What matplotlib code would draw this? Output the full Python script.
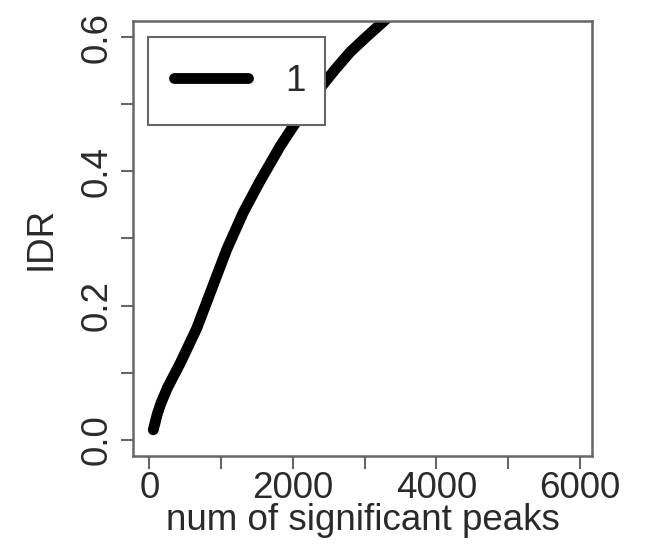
import matplotlib
matplotlib.use("Agg")
import matplotlib.pyplot as plt

# IDR curve against the number of significant peaks
peaks = [56, 110, 160, 250, 430, 660, 870, 1080, 1310, 1540, 1820, 2010, 2380,
         2590, 2800, 3030, 3260, 3330]
idr = [0.015, 0.038, 0.054, 0.077, 0.114, 0.166, 0.225, 0.284, 0.339, 0.385,
       0.437, 0.468, 0.524, 0.552, 0.578, 0.601, 0.623, 0.630]

x_ticks = [0, 2000, 4000, 6000]
x_minor = [1000, 3000, 5000]
y_ticks = [0.0, 0.2, 0.4, 0.6]
y_minor = [0.1, 0.3, 0.5]
series_name = "1"

plt.rcParams["font.family"] = ["Liberation Sans", "DejaVu Sans"]
fs = 26.5
ink = "#2a2a2a"
frame = "#666666"

fig = plt.figure(figsize=(6.49, 5.48), dpi=100)
ax = fig.add_axes([0.2049, 0.1679, 0.7073, 0.7938])

ax.plot(peaks, idr, color="black", linewidth=7.8, solid_capstyle="round",
        solid_joinstyle="round", label=series_name)

ax.set_xlim(-227, 6166)
ax.set_ylim(-0.024, 0.624)

ax.set_xticks(x_ticks)
ax.set_xticks(x_minor, minor=True)
ax.set_yticks(y_ticks)
ax.set_yticks(y_minor, minor=True)
ax.set_xticklabels([str(v) for v in x_ticks], fontsize=fs, color=ink)
ax.set_yticklabels(["%.1f" % v for v in y_ticks], fontsize=fs, color=ink,
                   rotation=90, va="center")

for which in ("major", "minor"):
    ax.tick_params(axis="both", which=which, direction="out", length=9,
                   width=1.5, color=frame, pad=4)
ax.tick_params(axis="x", which="major", pad=2)

for s in ax.spines.values():
    s.set_color(frame)
    s.set_linewidth(1.8)

ax.set_xlabel("num of significant peaks", fontsize=fs, color=ink, labelpad=-2)
ax.set_ylabel("IDR", fontsize=fs, color=ink, labelpad=15)

leg = ax.legend(loc="upper left", bbox_to_anchor=(0.0327, 0.766, 0.385, 0.197),
                mode="expand", fontsize=fs, frameon=True, fancybox=False,
                borderpad=0.72, handlelength=2.0, handletextpad=1.0,
                borderaxespad=0.0)
leg.get_frame().set_edgecolor(frame)
leg.get_frame().set_linewidth(1.5)
leg.get_frame().set_alpha(1.0)
for t in leg.get_texts():
    t.set_color(ink)

fig.savefig("out.png", dpi=100)
